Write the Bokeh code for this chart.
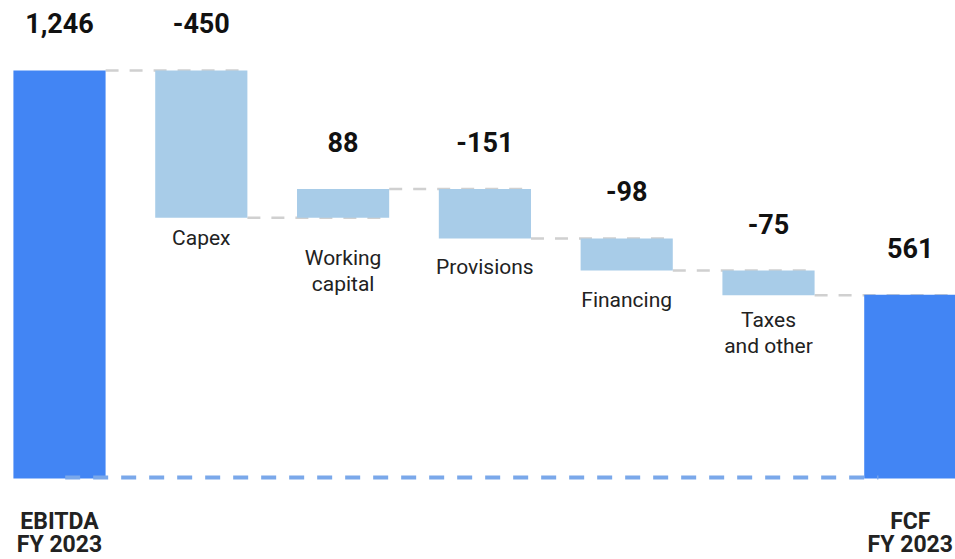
from bokeh.plotting import figure
from bokeh.models import ColumnDataSource, Range1d
from bokeh.embed import file_html
from bokeh.resources import INLINE
from bokeh.core.properties import value

# ---- data ----
categories = ["EBITDA\nFY 2023", "Capex", "Working\ncapital", "Provisions",
              "Financing", "Taxes\nand other", "FCF\nFY 2023"]
amounts = [1246, -450, 88, -151, -98, -75, 561]
is_total = [True, False, False, False, False, False, True]
value_labels = ["1,246", "-450", "88", "-151", "-98", "-75", "561"]

# ---- styling ----
TOTAL_COLOR = "#4285f4"
DELTA_COLOR = "#a8cce8"
CONNECT_COLOR = "#d0d0d0"
BASE_COLOR = "#7aa8ea"
FONT = "Roboto"
BAR_W = 0.65
# per-label vertical pixel offset of first line of delta labels (below bar bottom)
delta_label_offsets = [0, 20, 40, 29, 29, 25, 0]

W, H = 955, 559
px_per_x = 141.8
x0_px = 59
px_per_y = 0.32745
zero_px = 478

p = figure(width=W, height=H, output_backend="svg", toolbar_location=None,
           x_range=Range1d(-x0_px / px_per_x, (W - x0_px) / px_per_x),
           y_range=Range1d(-(H - zero_px) / px_per_y, zero_px / px_per_y),
           min_border=0, outline_line_color=None)
p.axis.visible = False
p.grid.visible = False
p.background_fill_color = "white"
p.border_fill_color = "white"

xs, tops, bottoms, colors = [], [], [], []
running = 0
levels_before = []
for i, (a, t) in enumerate(zip(amounts, is_total)):
    levels_before.append(running)
    if t:
        b, tp = 0, a
        running = a
    else:
        b, tp = running, running + a
        running = running + a
    xs.append(i)
    tops.append(max(b, tp))
    bottoms.append(min(b, tp))
    colors.append(TOTAL_COLOR if t else DELTA_COLOR)

# connectors (drawn under the bars)
for i in range(1, len(amounts)):
    y = levels_before[i]
    p.line([xs[i - 1] + BAR_W / 2, xs[i] + BAR_W / 2], [y, y],
           line_color=CONNECT_COLOR, line_width=2.5, line_dash="13 11")

src = ColumnDataSource(dict(x=xs, top=tops, bottom=bottoms, color=colors))
p.vbar(x="x", width=BAR_W, top="top", bottom="bottom", fill_color="color",
       line_color=None, source=src)

# baseline dashed line
p.line([xs[0] + 0.04, xs[-1] - BAR_W / 2 + 0.1], [3, 3], line_color=BASE_COLOR,
       line_width=4, line_dash="15 13")

# value labels
p.text(x=xs, y=tops, text=value_labels, text_font=value(FONT), text_font_style="bold",
       text_font_size="27px", text_color="#111111", text_align="center",
       text_baseline="middle", y_offset=-47)

# category labels
for i, cat in enumerate(categories):
    lines = cat.split("\n")
    for j, ln in enumerate(lines):
        if is_total[i]:
            p.text(x=[xs[i]], y=[0], text=[ln], text_font=value(FONT),
                   text_font_style="bold", text_font_size="23px", text_color="#222222",
                   text_align="center", text_baseline="middle", y_offset=43 + 23 * j)
        else:
            p.text(x=[xs[i]], y=[bottoms[i]], text=[ln], text_font=value(FONT),
                   text_font_size="21px", text_color="#222222",
                   text_align="center", text_baseline="middle",
                   y_offset=delta_label_offsets[i] + 26 * j)

open("out.html", "w").write(file_html(p, INLINE))
